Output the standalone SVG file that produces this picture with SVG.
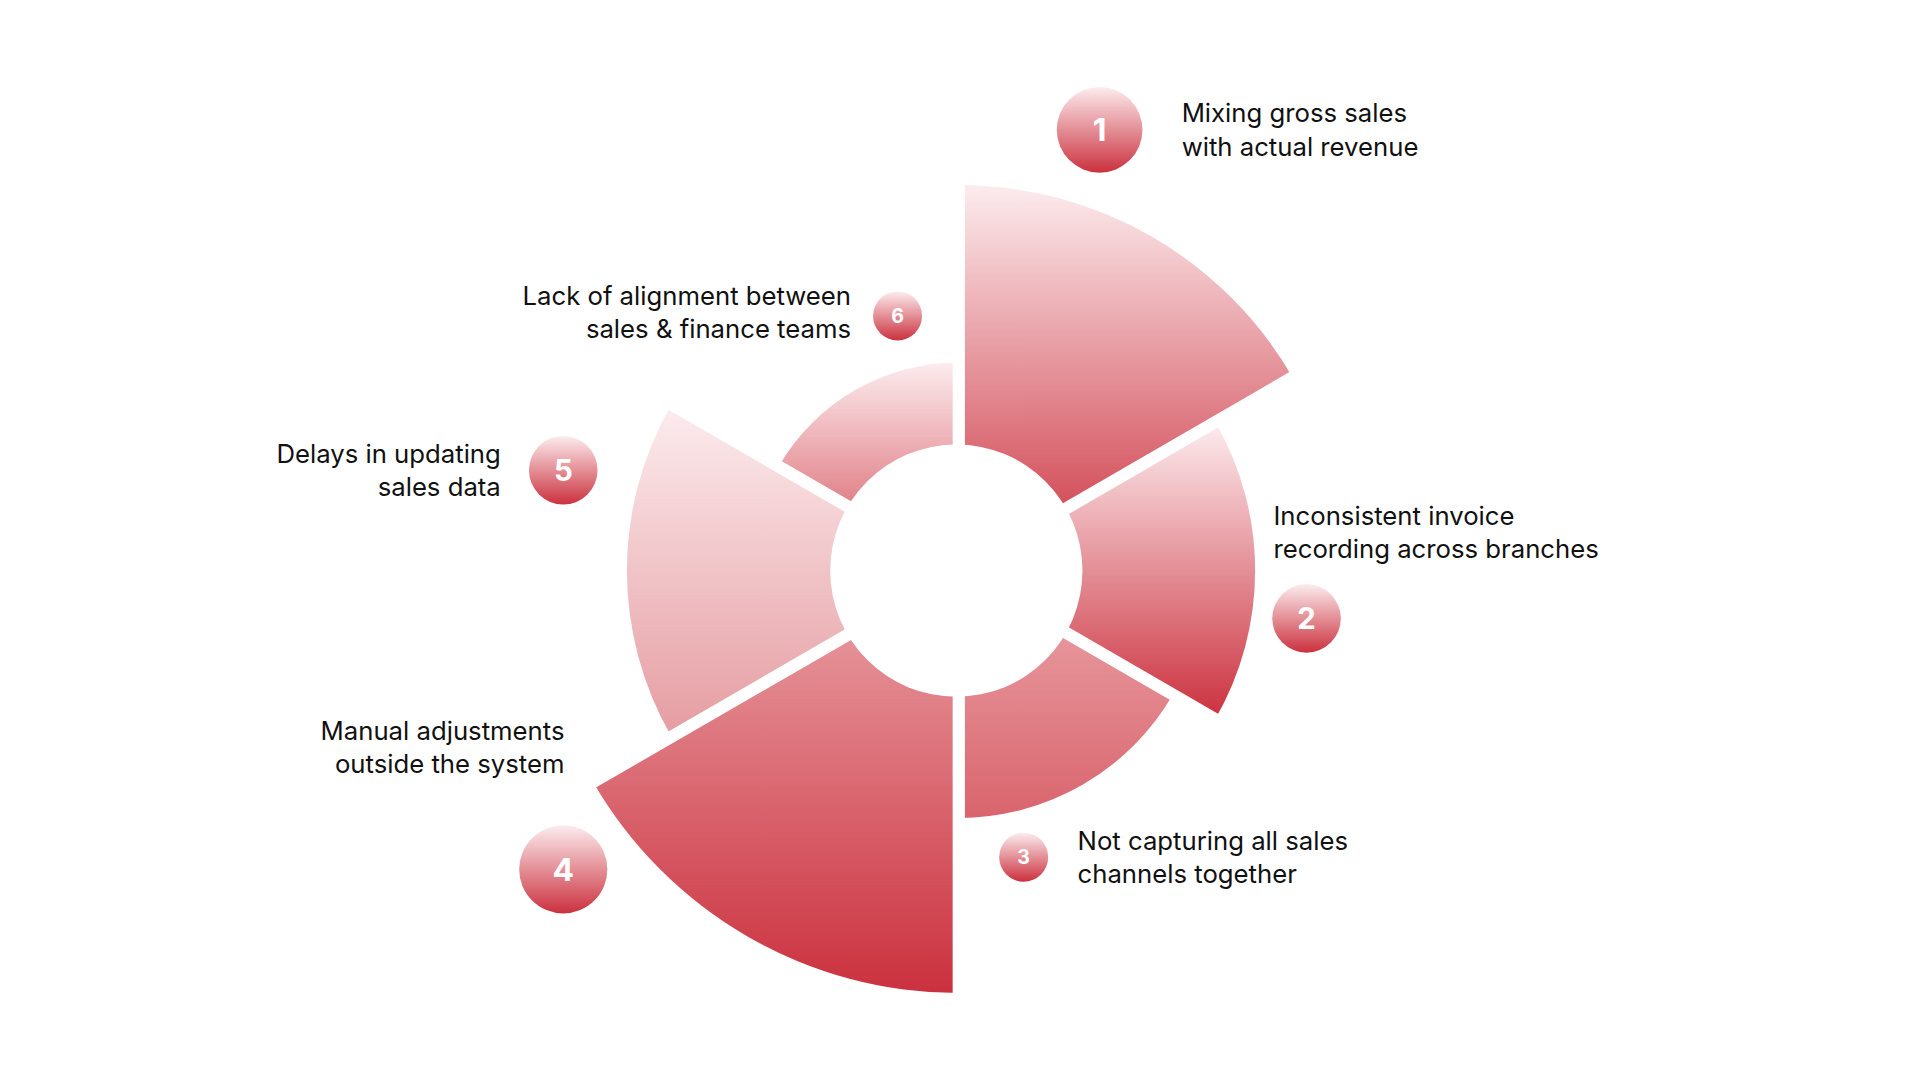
<svg xmlns="http://www.w3.org/2000/svg" width="1920" height="1080" viewBox="0 0 1920 1080">
<defs>
<linearGradient id="gA" x1="0" y1="0" x2="0" y2="1"><stop offset="0" stop-color="#fcecee"/><stop offset="1" stop-color="#cb313e"/></linearGradient>
<linearGradient id="g3" x1="0" y1="0" x2="0" y2="1"><stop offset="0" stop-color="#eba7ab"/><stop offset="1" stop-color="#d9646d"/></linearGradient>
<linearGradient id="g4" x1="0" y1="0" x2="0" y2="1"><stop offset="0" stop-color="#eaa3a8"/><stop offset="1" stop-color="#cb313e"/></linearGradient>
<linearGradient id="g5" x1="0" y1="0" x2="0" y2="1"><stop offset="0" stop-color="#fcecee"/><stop offset="1" stop-color="#e59ca1"/></linearGradient>
<linearGradient id="g6" x1="0" y1="0" x2="0" y2="1"><stop offset="0" stop-color="#fcecee"/><stop offset="1" stop-color="#d44f5a"/></linearGradient>
</defs>
<style>
.t{font-family:Inter,"Liberation Sans",sans-serif;font-size:21px;fill:#111}
.n{font-family:Inter,"Liberation Sans",sans-serif;font-weight:700;fill:#fff;text-anchor:middle;dominant-baseline:central}
.e{text-anchor:end}
.gap{stroke:#fff;stroke-width:10;fill:none}
</style>
<g transform="scale(1.2245)">
<g id="ring">
<path id="s1" fill="url(#gA)" d="M783,466 L783,151 A315,315 0 0 1 1055.8,308.5 Z"/>
<path id="s2" fill="url(#gA)" d="M783,466 L992.6,345 A242,242 0 0 1 992.6,587 Z"/>
<path id="s3" fill="url(#gA)" d="M783,466 L958,567 A202,202 0 0 1 783,668 Z" style="fill:url(#g3)"/>
<path id="s4" d="M783,466 L783,811 A345,345 0 0 1 484.2,638.5 Z" fill="url(#g4)"/>
<path id="s5" d="M783,466 L548.3,601.5 A271,271 0 0 1 548.3,330.5 Z" fill="url(#g5)"/>
<path id="s6" d="M783,466 L635.8,381 A170,170 0 0 1 783,296 Z" fill="url(#g6)"/>
<circle cx="781" cy="466" r="103" fill="#fff"/>
</g>
<g id="connectors">
<line class="gap" x1="783" y1="466" x2="783" y2="140"/>
<line class="gap" x1="783" y1="466" x2="1080" y2="294"/>
<line class="gap" x1="783" y1="466" x2="1080" y2="638"/>
<line class="gap" x1="783" y1="466" x2="783" y2="830"/>
<line class="gap" x1="783" y1="466" x2="470" y2="647"/>
<line class="gap" x1="783" y1="466" x2="520" y2="314"/>
</g>
<g id="n1"><circle cx="898" cy="106" r="35" fill="url(#gA)"/><text class="n" x="898" y="106" font-size="26">1</text>
<text class="t" x="965" y="100">Mixing gross sales</text><text class="t" x="965" y="127">with actual revenue</text></g>
<g id="n2"><circle cx="1067" cy="505" r="28" fill="url(#gA)"/><text class="n" x="1067" y="505" font-size="24">2</text>
<text class="t" x="1040" y="429">Inconsistent invoice</text><text class="t" x="1040" y="456">recording across branches</text></g>
<g id="n3"><circle cx="836" cy="700" r="20" fill="url(#gA)"/><text class="n" x="836" y="700" font-size="16">3</text>
<text class="t" x="880" y="694">Not capturing all sales</text><text class="t" x="880" y="721">channels together</text></g>
<g id="n4"><circle cx="460" cy="710" r="36" fill="url(#gA)"/><text class="n" x="460" y="710" font-size="26">4</text>
<text class="t e" x="461" y="604">Manual adjustments</text><text class="t e" x="461" y="631">outside the system</text></g>
<g id="n5"><circle cx="460" cy="384" r="28" fill="url(#gA)"/><text class="n" x="460" y="384" font-size="24">5</text>
<text class="t e" x="409" y="378">Delays in updating</text><text class="t e" x="409" y="405">sales data</text></g>
<g id="n6"><circle cx="733" cy="258" r="20" fill="url(#gA)"/><text class="n" x="733" y="258" font-size="16">6</text>
<text class="t e" x="695" y="249">Lack of alignment between</text><text class="t e" x="695" y="276">sales &amp; finance teams</text></g>
</g>
</svg>
